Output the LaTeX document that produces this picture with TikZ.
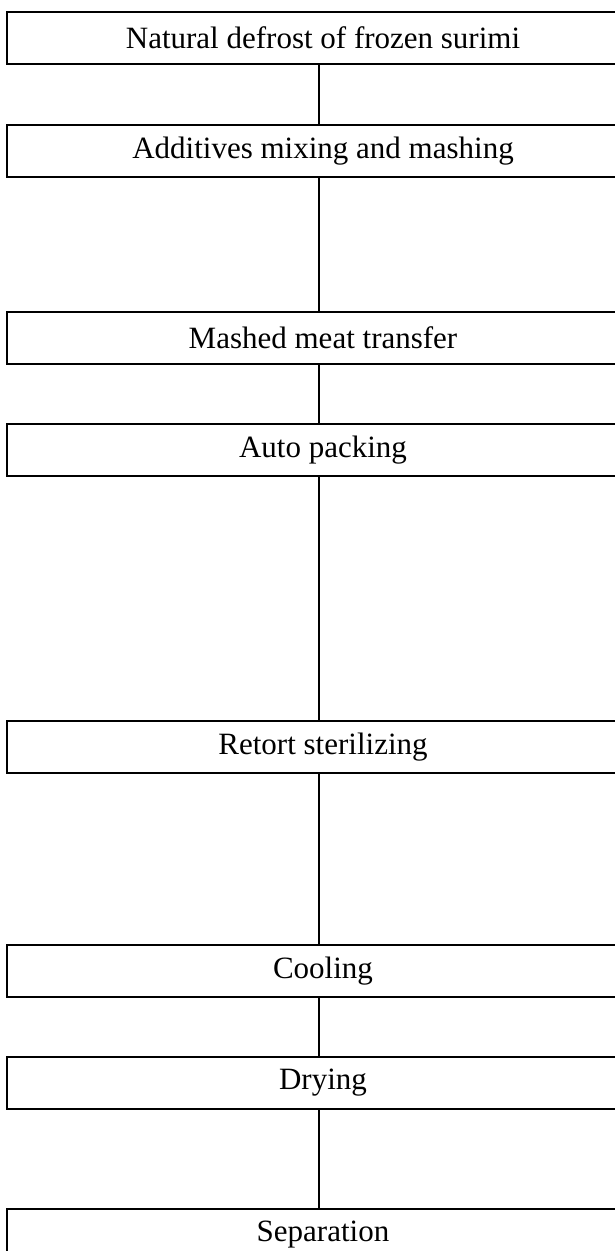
\documentclass[tikz,border=0pt]{standalone}
\usepackage{fontspec}
\setmainfont{Liberation Serif}
\usetikzlibrary{positioning}

\begin{document}
\begin{tikzpicture}
		[x=1pt, y=-1pt, line width=1.2pt,
		 stage/.style={draw, minimum width=632pt, minimum height=52pt, inner sep=0pt, outer sep=0pt, font=\fontsize{31}{37}\selectfont}]
		\useasboundingbox (0,0) rectangle (614,1251);
		\node[stage, anchor=north west] (1) at (7,12) {Natural defrost of frozen surimi};
		\node[stage, below=61pt of 1] (2) {Additives mixing and mashing};
		\node[stage, below=135pt of 2] (3) {Mashed meat transfer};
		\node[stage, below=60pt of 3] (4) {Auto packing};
		\node[stage, below=245pt of 4] (5) {Retort sterilizing};
		\node[stage, below=172pt of 5] (6) {Cooling};
		\node[stage, below=60pt of 6] (7) {Drying};
		\node[stage, below=100pt of 7] (8) {Separation};
		
		\draw ([xshift=-4pt]1.south) -- ([xshift=-4pt]2.north);
		\draw ([xshift=-4pt]2.south) -- ([xshift=-4pt]3.north);
		\draw ([xshift=-4pt]3.south) -- ([xshift=-4pt]4.north);
		\draw ([xshift=-4pt]4.south) -- ([xshift=-4pt]5.north);
		\draw ([xshift=-4pt]5.south) -- ([xshift=-4pt]6.north);
		\draw ([xshift=-4pt]6.south) -- ([xshift=-4pt]7.north);
		\draw ([xshift=-4pt]7.south) -- ([xshift=-4pt]8.north);
		\end{tikzpicture}
\end{document}
